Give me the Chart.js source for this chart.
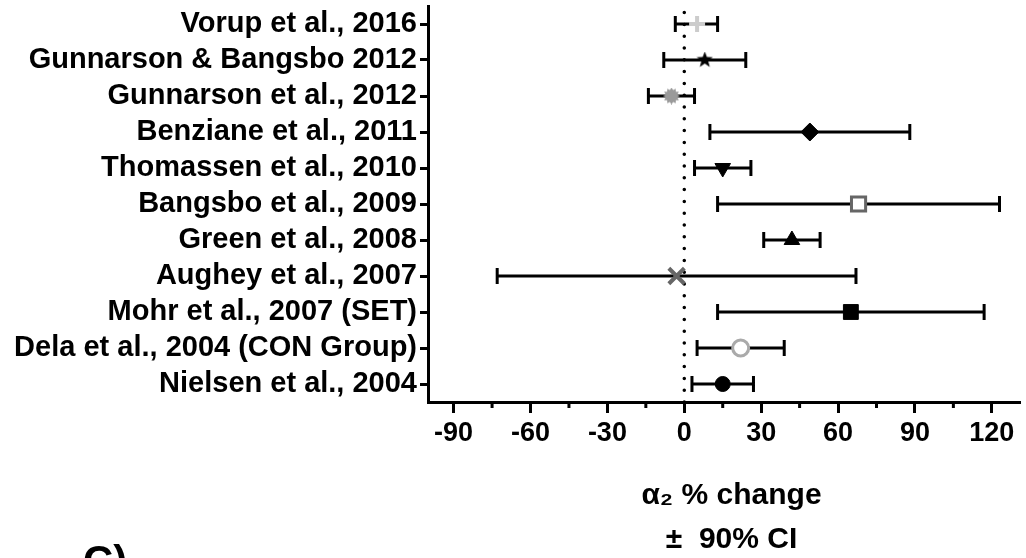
<!DOCTYPE html>
<html lang="en">
<head>
  <meta charset="UTF-8">
  <title>alpha2 % change forest plot</title>
  <script src="https://cdn.jsdelivr.net/npm/chart.js"></script>
  <style>
    html, body { margin: 0; padding: 0; background: #fff; }
    #wrap { width: 1026px; height: 558px; }
  </style>
</head>
<body>
  <div id="wrap"><canvas id="forestChart" width="1026" height="558"></canvas></div>

  <script>
    // studies, top to bottom
    const studies = [
      'Vorup et al., 2016',
      'Gunnarson & Bangsbo 2012',
      'Gunnarson et al., 2012',
      'Benziane et al., 2011',
      'Thomassen et al., 2010',
      'Bangsbo et al., 2009',
      'Green et al., 2008',
      'Aughey et al., 2007',
      'Mohr et al., 2007 (SET)',
      'Dela et al., 2004 (CON Group)',
      'Nielsen et al., 2004'
    ];
    // % change and 90% CI
    const estimates = [5, 8, -5, 49, 15, 68, 42, -3, 65, 22, 15];
    const lower = [-3.5, -8, -14, 10, 4, 13, 31, -73, 13, 5, 3];
    const upper = [13, 24, 4, 88, 26, 123, 53, 67, 117, 39, 27];
    const xMajorTicks = [-90, -60, -30, 0, 30, 60, 90, 120];
    const xMinorTicks = [-75, -45, -15, 15, 45, 75, 105];

    const FONT = "'Liberation Sans', Arial, sans-serif";

    function starImage(size, color) {
      const c = document.createElement('canvas');
      c.width = size; c.height = size;
      const g = c.getContext('2d');
      const r = size / 2, ri = r * 0.42;
      g.fillStyle = color;
      g.beginPath();
      for (let k = 0; k < 10; k++) {
        const a = -Math.PI / 2 + k * Math.PI / 5;
        const rr = k % 2 ? ri : r;
        g.lineTo(r + rr * Math.cos(a), r + rr * Math.sin(a));
      }
      g.closePath();
      g.fill();
      return c;
    }

    function burstImage(size, color) {
      const c = document.createElement('canvas');
      c.width = size; c.height = size;
      const g = c.getContext('2d');
      const r = size / 2, ri = r * 0.72;
      g.fillStyle = color;
      g.beginPath();
      for (let k = 0; k < 24; k++) {
        const a = k * Math.PI / 12;
        const rr = k % 2 ? ri : r;
        g.lineTo(r + rr * Math.cos(a), r + rr * Math.sin(a));
      }
      g.closePath();
      g.fill();
      return c;
    }

    // marker look per study
    const markerStyle = ['cross', starImage(17, '#000'), burstImage(17, '#9a9a9a'), 'rectRot', 'triangle',
      'rect', 'triangle', 'crossRot', 'rect', 'circle', 'circle'];
    const markerRadius = [8, 8, 8, 9, 9, 10, 9, 11, 10.5, 8, 7.5];
    const markerRotation = [0, 0, 0, 0, 180, 0, 0, 0, 0, 0, 0];
    const markerFill = ['#ccc', '#000', '#999', '#000', '#000', '#fff', '#000', '#666', '#000', '#fff', '#000'];
    const markerBorder = ['#ccc', '#000', '#999', '#000', '#000', '#666', '#000', '#666', '#000', '#aaa', '#000'];
    const markerBorderWidth = [4, 1, 1, 1, 1, 3, 1, 4, 1, 3, 1];

    const errorBars = {
      id: 'errorBars',
      beforeDatasetsDraw(chart) {
        const ctx = chart.ctx;
        const x = chart.scales.x, y = chart.scales.y;
        ctx.save();
        // dotted zero line
        ctx.strokeStyle = '#000';
        ctx.lineWidth = 3.5;
        ctx.lineCap = 'round';
        ctx.setLineDash([0, 11.8]);
        ctx.beginPath();
        ctx.moveTo(x.getPixelForValue(0), chart.chartArea.bottom);
        ctx.lineTo(x.getPixelForValue(0), chart.chartArea.top);
        ctx.stroke();
        ctx.setLineDash([]);
        ctx.lineCap = 'butt';
        ctx.lineWidth = 3;
        studies.forEach((s, i) => {
          const py = y.getPixelForValue(i);
          const x1 = x.getPixelForValue(lower[i]);
          const x2 = x.getPixelForValue(upper[i]);
          ctx.beginPath();
          ctx.moveTo(x1, py); ctx.lineTo(x2, py);
          ctx.moveTo(x1, py - 8); ctx.lineTo(x1, py + 8);
          ctx.moveTo(x2, py - 8); ctx.lineTo(x2, py + 8);
          ctx.stroke();
        });
        ctx.restore();
      },
      afterDraw(chart) {
        const ctx = chart.ctx;
        const x = chart.scales.x;
        const bottom = chart.chartArea.bottom;
        ctx.save();
        ctx.strokeStyle = '#000';
        ctx.lineWidth = 3;
        xMinorTicks.forEach(v => {
          const px = x.getPixelForValue(v);
          ctx.beginPath();
          ctx.moveTo(px, bottom);
          ctx.lineTo(px, bottom + 6);
          ctx.stroke();
        });
        ctx.fillStyle = '#000';
        ctx.font = 'bold 42px ' + FONT;
        ctx.textBaseline = 'alphabetic';
        ctx.fillText('C)', 83, 575);
        ctx.restore();
      }
    };

    const ctx = document.getElementById('forestChart').getContext('2d');
    new Chart(ctx, {
      type: 'scatter',
      data: {
        datasets: [{
          data: studies.map((s, i) => ({ x: estimates[i], y: s })),
          pointStyle: markerStyle,
          pointRadius: markerRadius,
          pointRotation: markerRotation,
          pointBackgroundColor: markerFill,
          pointBorderColor: markerBorder,
          pointBorderWidth: markerBorderWidth,
          pointHoverRadius: markerRadius
        }]
      },
      options: {
        responsive: false,
        animation: false,
        layout: { autoPadding: false, padding: { top: 6, right: 6, left: 0, bottom: 0 } },
        plugins: { legend: { display: false }, tooltip: { enabled: false } },
        scales: {
          y: {
            type: 'category',
            labels: studies,
            offset: true,
            afterFit(scale) {
              scale.width = 428;
              scale.paddingTop = 0;
              scale.paddingBottom = 0;
            },
            border: { color: '#000', width: 3 },
            grid: { drawOnChartArea: false, tickLength: 8, tickWidth: 3, tickColor: '#000' },
            ticks: { color: '#000', padding: 3, autoSkip: false, font: { family: FONT, size: 29, weight: 'bold' } }
          },
          x: {
            type: 'linear',
            min: -100,
            max: 131,
            afterBuildTicks(scale) { scale.ticks = xMajorTicks.map(v => ({ value: v })); },
            afterFit(scale) {
              scale.height = 156;
              scale.paddingLeft = 0;
              scale.paddingRight = 0;
            },
            border: { color: '#000', width: 3 },
            grid: { drawOnChartArea: false, tickLength: 11, tickWidth: 3, tickColor: '#000' },
            ticks: { color: '#000', padding: 4, maxRotation: 0, autoSkip: false, font: { family: FONT, size: 27, weight: 'bold' } },
            title: {
              display: true,
              text: ['\u2002α₂ % change', '\u2002±  90% CI'],
              color: '#000',
              padding: { top: 0, bottom: -3 },
              font: { family: FONT, size: 30, weight: 'bold', lineHeight: 1.45 }
            }
          }
        }
      },
      plugins: [errorBars]
    });
  </script>
</body>
</html>
